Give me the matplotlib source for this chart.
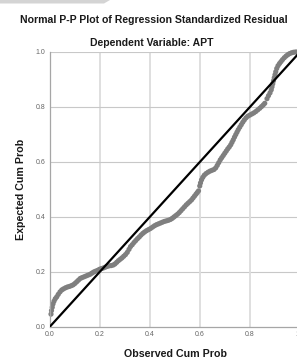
import matplotlib
matplotlib.use("Agg")
import matplotlib.pyplot as plt
from matplotlib.patches import Polygon

plt.rcParams['font.family'] = ['Liberation Sans', 'DejaVu Sans']

# observed vs expected cumulative probabilities
observed = [
    0.004, 0.006, 0.009, 0.012, 0.016, 0.021, 0.027, 0.033, 0.040, 0.047,
    0.054, 0.062, 0.070, 0.078, 0.086, 0.093, 0.100, 0.107, 0.114, 0.121,
    0.128, 0.136, 0.144, 0.152, 0.160, 0.167, 0.174, 0.181, 0.189, 0.197,
    0.205, 0.213, 0.221, 0.229, 0.237, 0.245, 0.253, 0.260, 0.267, 0.274,
    0.281, 0.288, 0.295, 0.302, 0.309, 0.316, 0.322, 0.329, 0.336, 0.343,
    0.350, 0.357, 0.364, 0.371, 0.378, 0.386, 0.394, 0.402, 0.410, 0.418,
    0.426, 0.434, 0.442, 0.450, 0.458, 0.466, 0.474, 0.482, 0.489, 0.496,
    0.503, 0.510, 0.517, 0.524, 0.531, 0.538, 0.545, 0.552, 0.559, 0.566,
    0.572, 0.578, 0.584, 0.589, 0.594, 0.599, 0.602, 0.606, 0.611, 0.617,
    0.624, 0.632, 0.640, 0.648, 0.656, 0.663, 0.669, 0.675, 0.681, 0.687,
    0.693, 0.699, 0.705, 0.711, 0.717, 0.723, 0.728, 0.733, 0.738, 0.743,
    0.748, 0.753, 0.759, 0.765, 0.771, 0.777, 0.784, 0.791, 0.799, 0.807,
    0.815, 0.823, 0.831, 0.839, 0.846, 0.853, 0.859, 0.868, 0.874, 0.880,
    0.885, 0.888, 0.891, 0.894, 0.897, 0.900, 0.903, 0.907, 0.912, 0.918,
    0.924, 0.930, 0.937, 0.944, 0.951, 0.958, 0.966, 0.974, 0.982, 0.990,
    0.996,
]
expected = [
    0.045, 0.058, 0.070, 0.082, 0.092, 0.101, 0.108, 0.117, 0.126, 0.133,
    0.137, 0.141, 0.144, 0.146, 0.149, 0.152, 0.157, 0.163, 0.169, 0.175,
    0.178, 0.181, 0.184, 0.187, 0.190, 0.194, 0.198, 0.201, 0.204, 0.208,
    0.211, 0.213, 0.216, 0.219, 0.221, 0.222, 0.224, 0.228, 0.234, 0.240,
    0.245, 0.250, 0.256, 0.262, 0.270, 0.281, 0.291, 0.298, 0.306, 0.313,
    0.320, 0.326, 0.333, 0.339, 0.344, 0.349, 0.353, 0.357, 0.362, 0.367,
    0.371, 0.374, 0.377, 0.380, 0.383, 0.385, 0.387, 0.390, 0.394, 0.399,
    0.404, 0.409, 0.415, 0.422, 0.429, 0.436, 0.443, 0.449, 0.455, 0.461,
    0.468, 0.475, 0.482, 0.488, 0.494, 0.512, 0.523, 0.534, 0.543, 0.551,
    0.557, 0.562, 0.566, 0.569, 0.572, 0.578, 0.587, 0.597, 0.607, 0.615,
    0.623, 0.631, 0.639, 0.647, 0.654, 0.662, 0.671, 0.680, 0.690, 0.699,
    0.708, 0.717, 0.726, 0.735, 0.744, 0.752, 0.760, 0.766, 0.770, 0.774,
    0.778, 0.783, 0.789, 0.795, 0.801, 0.807, 0.813, 0.830, 0.841, 0.851,
    0.862, 0.873, 0.884, 0.895, 0.906, 0.917, 0.928, 0.940, 0.950, 0.958,
    0.965, 0.972, 0.979, 0.985, 0.990, 0.994, 0.997, 0.999, 1.000, 1.000,
    1.000,
]
ref_line = [0.0, 1.0]
ticks = [0.0, 0.2, 0.4, 0.6, 0.8, 1.0]
tick_labels = ['0.0', '0.2', '0.4', '0.6', '0.8', '1.0']

fig = plt.figure(figsize=(2.97, 3.62), dpi=100)
ax = fig.add_axes([50 / 297, 35.5 / 362, 250 / 297, 274.5 / 362])

# grab-bar remnant in the top-left corner of the screenshot
fig.patches.append(Polygon([[0, 1], [110 / 297, 1], [104 / 297, 1 - 3.5 / 362], [0, 1 - 3.5 / 362]],
                           closed=True, transform=fig.transFigure, facecolor='#d4d4d4',
                           edgecolor='none'))

ax.set_xlim(0, 1)
ax.set_ylim(0, 1)
for t in ticks[1:]:
    ax.axhline(t, color='#c8c8c8', lw=0.8, zorder=0)
    ax.axvline(t, color='#dcdcdc', lw=1.3, zorder=0)

ax.scatter(observed, expected, s=14, color='#7f7f7f', edgecolors='none', zorder=2, clip_on=False)
ax.plot(ref_line, ref_line, color='black', lw=1.6, zorder=3)

for side in ['top', 'right']:
    ax.spines[side].set_visible(False)
for side in ['left', 'bottom']:
    ax.spines[side].set_color('#a6a6a6')
    ax.spines[side].set_linewidth(0.9)

ax.set_xticks(ticks)
ax.set_xticklabels(tick_labels)
ax.set_yticks(ticks)
ax.set_yticklabels(tick_labels)
ax.tick_params(length=0, labelsize=5, labelcolor='#666666')
ax.tick_params(axis='x', pad=3)
ax.tick_params(axis='y', pad=3.5)

fig.text(154 / 297, 1 - 20 / 362, 'Normal P-P Plot of Regression Standardized Residual',
         ha='center', va='center', fontsize=7.6, fontweight='bold', color='#1a1a1a')
fig.text(152 / 297, 1 - 43 / 362, 'Dependent Variable: APT',
         ha='center', va='center', fontsize=7.5, fontweight='bold', color='#1a1a1a')
fig.text(175 / 297, 1 - 354 / 362, 'Observed Cum Prob',
         ha='center', va='center', fontsize=7.7, fontweight='bold', color='#1a1a1a')
fig.text(21 / 297, 1 - 189 / 362, 'Expected Cum Prob', rotation=90,
         ha='center', va='center', fontsize=7.7, fontweight='bold', color='#1a1a1a')

fig.savefig('out.png', dpi=100)
